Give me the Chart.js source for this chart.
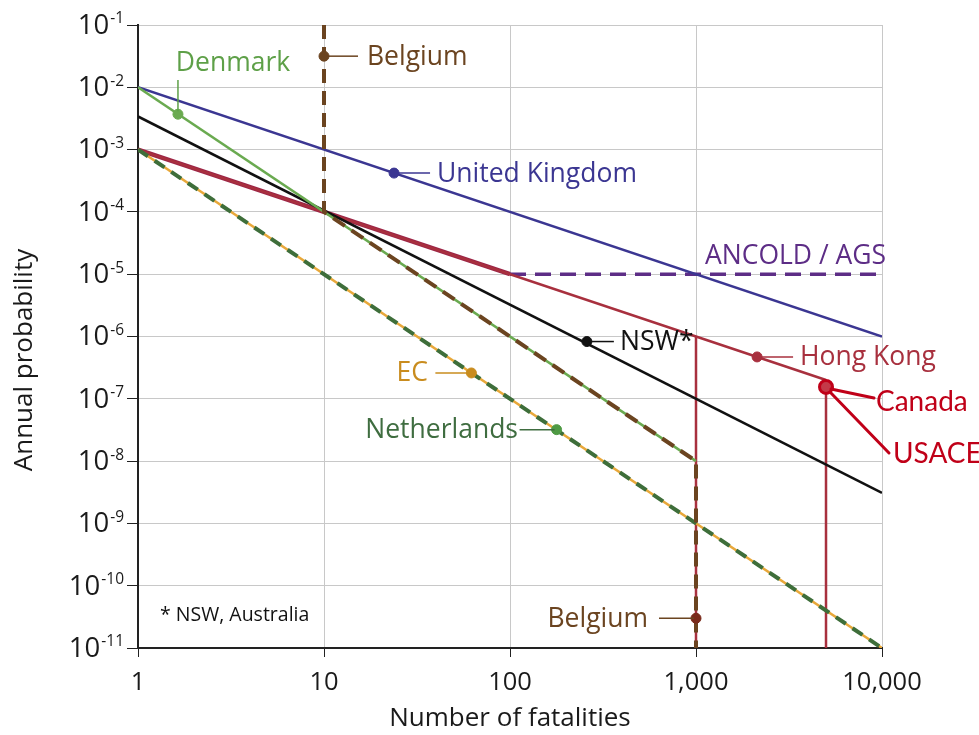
<!DOCTYPE html>
<html><head><meta charset="utf-8">
<script src="https://cdn.jsdelivr.net/npm/chart.js@4/dist/chart.umd.min.js"></script>
<style>html,body{margin:0;padding:0;background:#fff}#wrap{width:979px;height:735px;position:relative}</style>
</head><body><div id="wrap"><canvas id="c" width="979" height="735"></canvas></div>
<script>
// ---- tick labels ----
const xTickValues = [1, 10, 100, 1000, 10000];
const xTickLabels = ['1', '10', '100', '1,000', '10,000'];
const yTickExponents = [-1, -2, -3, -4, -5, -6, -7, -8, -9, -10, -11];

// ---- criteria lines (x = number of fatalities, y = annual probability) ----
const ukX = [1, 10000];            const ukY = [1e-2, 1e-6];
const denmarkX = [1, 1000];        const denmarkY = [1e-2, 1e-8];
const belgiumX = [10, 10, 1000, 1000]; const belgiumY = [1e-1, 1e-4, 1e-8, 1e-11];
const hongKongX = [1, 1000, 5000]; const hongKongY = [1e-3, 1e-6, 2e-7];
const hkLimit1000X = [1000, 1000]; const hkLimit1000Y = [1e-6, 1e-11];
const hkLimit5000X = [5000, 5000]; const hkLimit5000Y = [2e-7, 1e-11];
const ancoldX = [1, 100, 10000];   const ancoldY = [1e-3, 1e-5, 1e-5];
const nswX = [1, 10000];           const nswY = [3.4e-3, 3.1e-9];
const ecX = [1, 10000];            const ecY = [1e-3, 1e-11];
const netherlandsX = [1, 10000];   const netherlandsY = [1e-3, 1e-11];

// ---- labelled markers ----
const markerNames = ['Denmark', 'Belgium', 'United Kingdom', 'NSW*', 'Hong Kong', 'EC', 'Netherlands', 'Belgium', 'Canada / USACE'];
const markerX = [1.64, 10, 23.8, 259, 2130, 62, 178, 1000, 5000];
const markerY = [3.7e-3, 3.16e-2, 4.2e-4, 8.3e-7, 4.7e-7, 2.6e-7, 3.2e-8, 3.0e-11, 1.55e-7];

const pts = (xs, ys) => xs.map((x, i) => ({x: x, y: ys[i]}));

// styling (not data)
const C = {
  uk: '#3b3692', denmark: '#6aaa50', denmarkText: '#5ea048', belgium: '#6b4420',
  hk: '#a8303e', ancold: '#5d2d86', ancoldDiag: '#9c2447', nsw: '#111111',
  ec: '#e8a83a', ecText: '#c98c1e', nl: '#3e6e3a', nlText: '#3f6d40', canada: '#c00018'
};
const markerColors = [C.denmark, C.belgium, C.uk, C.nsw, C.hk, '#c98c1e', '#4f9a44', '#7a2a1a', C.canada];
const labelStyle = [
  {type: 'up', tx: 233, ty: 62, color: C.denmarkText},
  {lead: [2, 34], tx: 367, align: 'left', color: C.belgium},
  {lead: [2, 36], tx: 437, align: 'left', color: C.uk},
  {lead: [2, 27], tx: 620, align: 'left', color: '#111'},
  {lead: [2, 36], tx: 800, align: 'left', color: C.hk},
  {lead: [-36, -2], tx: 428, align: 'right', color: C.ecText},
  {lead: [-37, -2], tx: 518, align: 'right', color: C.nlText},
  {lead: [-37, -2], tx: 648, align: 'right', color: C.belgium},
  null
];

const FONT = '"Open Sans", "Noto Sans", sans-serif';

const annotate = {
  id: 'annotate',
  afterDatasetsDraw(chart) {
    const ctx = chart.ctx, xs = chart.scales.x, ys = chart.scales.y;
    ctx.save();
    markerNames.forEach((name, i) => {
      const st = labelStyle[i];
      if (!st) return;
      const px = xs.getPixelForValue(markerX[i]), py = ys.getPixelForValue(markerY[i]);
      ctx.strokeStyle = st.color; ctx.lineWidth = 1.5;
      ctx.font = '26.5px ' + FONT; ctx.fillStyle = st.color; ctx.textBaseline = 'middle';
      if (st.type === 'up') {
        ctx.beginPath(); ctx.moveTo(px, py - 3); ctx.lineTo(px, st.ty + 18); ctx.stroke();
        ctx.textAlign = 'center'; ctx.fillText(name, st.tx, st.ty + 1);
      } else {
        ctx.beginPath(); ctx.moveTo(px + st.lead[0], py); ctx.lineTo(px + st.lead[1], py); ctx.stroke();
        ctx.textAlign = st.align; ctx.fillText(name, st.tx, py + 1);
      }
    });
    ctx.font = '26.5px ' + FONT; ctx.fillStyle = C.ancold; ctx.textAlign = 'left'; ctx.textBaseline = 'middle';
    ctx.fillText('ANCOLD / AGS', 705, ys.getPixelForValue(ancoldY[2]) - 18);
    ctx.font = '19.5px ' + FONT; ctx.fillStyle = '#111';
    ctx.fillText('* NSW, Australia', 160, 615);
    const cx = xs.getPixelForValue(markerX[8]), cy = ys.getPixelForValue(markerY[8]);
    ctx.strokeStyle = C.canada; ctx.lineWidth = 3; ctx.lineCap = 'round';
    ctx.beginPath(); ctx.moveTo(cx + 5, cy + 2); ctx.lineTo(cx + 48, cy + 11); ctx.stroke();
    ctx.beginPath(); ctx.moveTo(cx + 4, cy + 5); ctx.lineTo(cx + 63, cy + 66); ctx.stroke();
    ctx.font = '28px Lato, "Liberation Sans", sans-serif'; ctx.fillStyle = C.canada;
    ctx.fillText('Canada', 876, cy + 15);
    ctx.fillText('USACE', 893, cy + 67);
    ctx.fillStyle = '#1a1a1a'; ctx.textBaseline = 'middle';
    yTickExponents.forEach(e => {
      const y = ys.getPixelForValue(Math.pow(10, e));
      const exp = '-' + Math.abs(e);
      ctx.font = '15.5px ' + FONT;
      const ew = ctx.measureText(exp).width;
      ctx.textAlign = 'right';
      ctx.fillText(exp, 124, y - 6);
      ctx.font = '27.5px ' + FONT;
      ctx.fillText('10', 124 - ew - 1, y + 1);
    });
    ctx.font = '26px ' + FONT; ctx.fillStyle = '#1a1a1a'; ctx.textAlign = 'center';
    ctx.fillText('Number of fatalities', (chart.chartArea.left + chart.chartArea.right) / 2, 719);
    ctx.save(); ctx.translate(25, 360); ctx.rotate(-Math.PI / 2);
    ctx.fillText('Annual probability', 0, 0); ctx.restore();
    ctx.restore();
  }
};

const ds = (label, xs, ys, color, width, extra) => Object.assign({
  label: label, data: pts(xs, ys), borderColor: color, backgroundColor: color,
  borderWidth: width, pointRadius: 0, fill: false, tension: 0
}, extra || {});

new Chart(document.getElementById('c'), {
  type: 'line',
  data: {
    datasets: [
      {type: 'scatter', label: 'markers', data: pts(markerX, markerY), pointRadius: markerX.map((v, i) => i === 8 ? 6.5 : 5),
        pointBackgroundColor: markerColors.map((c, i) => i === 8 ? '#c43a48' : c), pointBorderColor: markerColors,
        pointBorderWidth: markerX.map((v, i) => i === 8 ? 3 : 1), showLine: false, order: 0},
      ds('Belgium', belgiumX, belgiumY, C.belgium, 4, {borderDash: [14, 8], order: 1}),
      ds('Netherlands', netherlandsX, netherlandsY, C.nl, 4, {borderDash: [12, 8], order: 2}),
      ds('EC', ecX, ecY, C.ec, 2.5, {order: 3}),
      ds('Denmark', denmarkX, denmarkY, C.denmark, 2.5, {order: 4}),
      ds('NSW', nswX, nswY, C.nsw, 2.5, {order: 5}),
      ds('UK', ukX, ukY, C.uk, 2.5, {order: 6}),
      ds('Hong Kong', hongKongX, hongKongY, C.hk, 2.5, {order: 7}),
      ds('HK limit 1000', hkLimit1000X, hkLimit1000Y, C.hk, 2.5, {order: 7}),
      ds('HK limit 5000', hkLimit5000X, hkLimit5000Y, C.hk, 2.5, {order: 7}),
      ds('ANCOLD / AGS', ancoldX, ancoldY, C.ancold, 4, {order: 8,
        segment: {
          borderDash: c => c.p0.parsed.x >= 100 ? [16, 9] : undefined,
          borderColor: c => c.p0.parsed.x >= 100 ? C.ancold : C.ancoldDiag,
          borderWidth: c => c.p0.parsed.x >= 100 ? 3.5 : 4.5
        }})
    ]
  },
  options: {
    responsive: false, animation: false, devicePixelRatio: 1,
    layout: {padding: {left: 98, top: 25, right: 97, bottom: 27}},
    plugins: {legend: {display: false}, tooltip: {enabled: false}},
    scales: {
      x: {
        type: 'logarithmic', min: 1, max: 10000,
        afterBuildTicks: s => { s.ticks = xTickValues.map(v => ({value: v})); },
        afterFit: s => { s.height = 60; },
        ticks: {
          autoSkip: false, maxRotation: 0, padding: 10, color: '#1a1a1a',
          font: {family: FONT, size: 25.5},
          callback: v => xTickLabels[xTickValues.indexOf(v)]
        },
        grid: {color: '#c8c8c8', lineWidth: 1, tickLength: 9, tickColor: '#222', drawTicks: true},
        border: {color: '#222', width: 2}
      },
      y: {
        type: 'logarithmic', min: 1e-11, max: 1e-1,
        afterBuildTicks: s => { s.ticks = yTickExponents.map(e => ({value: Math.pow(10, e)})); },
        afterFit: s => { s.width = 40; },
        ticks: {display: false},
        grid: {color: '#c8c8c8', lineWidth: 1, tickLength: 11, tickColor: '#222', drawTicks: true},
        border: {color: '#222', width: 2}
      }
    }
  },
  plugins: [annotate]
});
</script>
</body></html>
